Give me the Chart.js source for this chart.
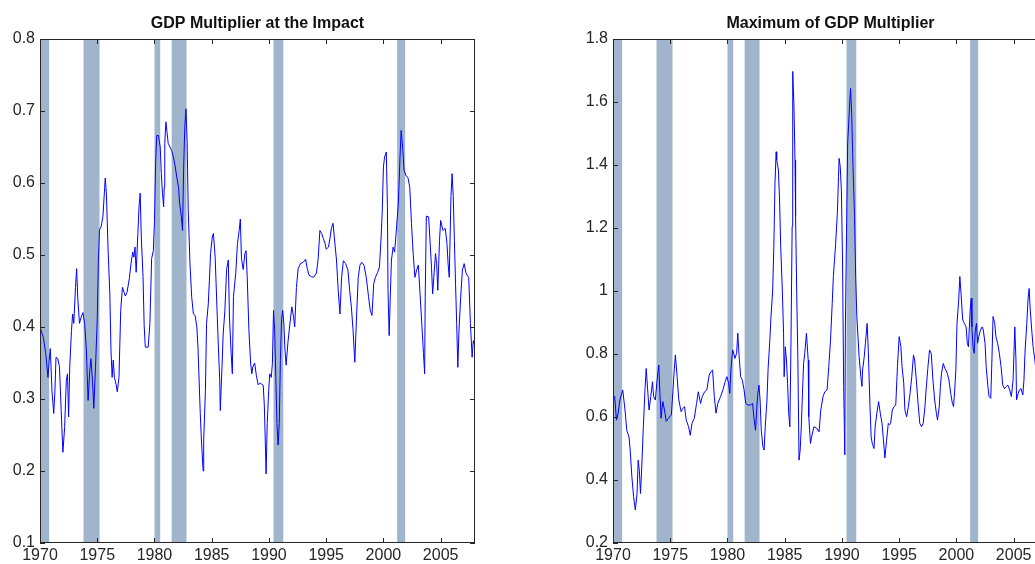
<!DOCTYPE html>
<html>
<head>
<meta charset="utf-8">
<script src="https://cdn.jsdelivr.net/npm/chart.js@4.4.1/dist/chart.umd.min.js"></script>
<style>
    html, body { margin: 0; padding: 0; background: #fff; }
    body { width: 1035px; height: 564px; overflow: hidden; position: relative; }
    canvas { position: absolute; top: 0; }
    #impactChart { left: 0; }
    #maxChart { left: 560px; }
</style>
</head>
<body>
<canvas id="impactChart" width="490" height="564"></canvas>
<canvas id="maxChart" width="500" height="564"></canvas>
<script>
// --- DATA ---
// NBER recessions, as decimal years [start, end]
const recessions = [
    [1969.9, 1970.8], [1973.8, 1975.2], [1980.0, 1980.5],
    [1981.5, 1982.8], [1990.4, 1991.25], [2001.2, 2001.9], [2007.92, 2009.0]
];

const xTicks = [1970, 1975, 1980, 1985, 1990, 1995, 2000, 2005];

// Left panel: GDP multiplier at the impact
const impactYears = [
    1970.0, 1970.3, 1970.5, 1970.7, 1970.8, 1970.9, 1971.05, 1971.2, 1971.3, 1971.4,
    1971.55, 1971.7, 1971.85, 1972.0, 1972.15, 1972.3, 1972.4, 1972.5, 1972.6, 1972.75,
    1972.85, 1972.95, 1973.1, 1973.2, 1973.3, 1973.45, 1973.6, 1973.75, 1973.9, 1974.05,
    1974.2, 1974.35, 1974.45, 1974.6, 1974.7, 1974.85, 1975.0, 1975.1, 1975.2, 1975.35,
    1975.5, 1975.65, 1975.7, 1975.8, 1975.95, 1976.1, 1976.2, 1976.3, 1976.4, 1976.5,
    1976.65, 1976.75, 1976.9, 1977.05, 1977.2, 1977.35, 1977.45, 1977.6, 1977.8, 1977.95,
    1978.1, 1978.2, 1978.3, 1978.4, 1978.55, 1978.65, 1978.75, 1978.85, 1979.0, 1979.1,
    1979.2, 1979.45, 1979.6, 1979.75, 1979.9, 1980.0, 1980.1, 1980.2, 1980.35, 1980.5,
    1980.6, 1980.7, 1980.8, 1980.85, 1980.9, 1981.0, 1981.1, 1981.2, 1981.35, 1981.5,
    1981.65, 1981.8, 1981.95, 1982.1, 1982.2, 1982.35, 1982.45, 1982.55, 1982.65, 1982.75,
    1982.85, 1982.95, 1983.1, 1983.25, 1983.4, 1983.55, 1983.7, 1983.8, 1984.0, 1984.1,
    1984.25, 1984.3, 1984.45, 1984.55, 1984.7, 1984.8, 1984.9, 1985.05, 1985.15, 1985.3,
    1985.4, 1985.55, 1985.7, 1985.75, 1985.9, 1986.0, 1986.15, 1986.3, 1986.45, 1986.55,
    1986.7, 1986.8, 1986.9, 1987.1, 1987.25, 1987.4, 1987.5, 1987.6, 1987.75, 1987.9,
    1988.0, 1988.1, 1988.25, 1988.4, 1988.5, 1988.6, 1988.75, 1988.9, 1989.05, 1989.25,
    1989.5, 1989.6, 1989.7, 1989.75, 1989.85, 1989.98, 1990.07, 1990.2, 1990.3, 1990.4,
    1990.5, 1990.6, 1990.7, 1990.8, 1990.9, 1991.0, 1991.1, 1991.2, 1991.3, 1991.4,
    1991.5, 1991.65, 1991.8, 1992.0, 1992.15, 1992.25, 1992.4, 1992.55, 1992.75, 1993.0,
    1993.2, 1993.35, 1993.5, 1993.7, 1993.9, 1994.15, 1994.3, 1994.45, 1994.6, 1994.75,
    1994.9, 1995.0, 1995.2, 1995.35, 1995.45, 1995.6, 1995.75, 1995.9, 1996.05, 1996.2,
    1996.35, 1996.5, 1996.7, 1996.9, 1997.05, 1997.2, 1997.35, 1997.5, 1997.65, 1997.8,
    1997.95, 1998.1, 1998.3, 1998.5, 1998.7, 1998.85, 1999.0, 1999.15, 1999.3, 1999.5,
    1999.65, 1999.8, 1999.9, 2000.0, 2000.1, 2000.25, 2000.35, 2000.4, 2000.5, 2000.6,
    2000.7, 2000.85, 2000.98, 2001.15, 2001.3, 2001.45, 2001.55, 2001.7, 2001.8, 2001.95,
    2002.15, 2002.3, 2002.45, 2002.6, 2002.75, 2002.9, 2003.05, 2003.2, 2003.35, 2003.5,
    2003.6, 2003.65, 2003.75, 2003.95, 2004.05, 2004.2, 2004.3, 2004.4, 2004.55, 2004.65,
    2004.75, 2004.9, 2005.0, 2005.2, 2005.4, 2005.55, 2005.65, 2005.75, 2005.9, 2006.0,
    2006.1, 2006.2, 2006.3, 2006.4, 2006.5, 2006.6, 2006.75, 2006.9, 2007.05, 2007.2,
    2007.3, 2007.45, 2007.6, 2007.75, 2007.85, 2008.0
];
const impactValues = [
    0.400, 0.385, 0.363, 0.330, 0.353, 0.370, 0.310, 0.280, 0.310, 0.358,
    0.356, 0.345, 0.284, 0.226, 0.260, 0.326, 0.335, 0.275, 0.345, 0.395,
    0.418, 0.405, 0.455, 0.481, 0.440, 0.405, 0.414, 0.420, 0.405, 0.368,
    0.298, 0.340, 0.356, 0.321, 0.287, 0.345, 0.410, 0.493, 0.535, 0.540,
    0.554, 0.594, 0.607, 0.585, 0.506, 0.446, 0.368, 0.330, 0.354, 0.330,
    0.320, 0.310, 0.330, 0.423, 0.455, 0.448, 0.443, 0.448, 0.467, 0.488,
    0.504, 0.497, 0.511, 0.476, 0.530, 0.567, 0.586, 0.525, 0.470, 0.402,
    0.372, 0.372, 0.405, 0.495, 0.506, 0.548, 0.627, 0.666, 0.666, 0.650,
    0.613, 0.585, 0.567, 0.594, 0.655, 0.685, 0.670, 0.655, 0.650, 0.645,
    0.636, 0.624, 0.608, 0.594, 0.571, 0.553, 0.534, 0.622, 0.678, 0.703,
    0.659, 0.562, 0.488, 0.442, 0.418, 0.416, 0.400, 0.372, 0.280, 0.243,
    0.200, 0.243, 0.312, 0.405, 0.432, 0.465, 0.502, 0.525, 0.530, 0.497,
    0.453, 0.386, 0.326, 0.284, 0.345, 0.390, 0.423, 0.480, 0.493, 0.414,
    0.363, 0.335, 0.442, 0.475, 0.516, 0.534, 0.550, 0.495, 0.480, 0.502,
    0.506, 0.470, 0.395, 0.350, 0.335, 0.345, 0.350, 0.333, 0.320, 0.322,
    0.319, 0.290, 0.229, 0.196, 0.266, 0.312, 0.335, 0.330, 0.349, 0.423,
    0.395, 0.330, 0.266, 0.236, 0.266, 0.354, 0.410, 0.423, 0.405, 0.368,
    0.347, 0.377, 0.400, 0.428, 0.414, 0.400, 0.455, 0.481, 0.488, 0.490,
    0.494, 0.481, 0.472, 0.470, 0.469, 0.475, 0.495, 0.534, 0.530, 0.523,
    0.516, 0.508, 0.511, 0.525, 0.537, 0.544, 0.518, 0.493, 0.451, 0.418,
    0.469, 0.492, 0.488, 0.479, 0.451, 0.428, 0.395, 0.351, 0.414, 0.469,
    0.486, 0.490, 0.486, 0.469, 0.442, 0.423, 0.416, 0.460, 0.469, 0.476,
    0.483, 0.525, 0.562, 0.622, 0.636, 0.643, 0.567, 0.451, 0.388, 0.442,
    0.493, 0.511, 0.504, 0.539, 0.571, 0.636, 0.673, 0.645, 0.618, 0.611,
    0.607, 0.594, 0.544, 0.502, 0.469, 0.479, 0.486, 0.446, 0.405, 0.363,
    0.335, 0.442, 0.554, 0.553, 0.525, 0.483, 0.446, 0.469, 0.502, 0.488,
    0.451, 0.520, 0.548, 0.534, 0.537, 0.516, 0.488, 0.469, 0.581, 0.613,
    0.581, 0.520, 0.460, 0.405, 0.344, 0.395, 0.442, 0.479, 0.488, 0.476,
    0.472, 0.469, 0.405, 0.358, 0.381, 0.372
];

// Right panel: maximum of GDP multiplier
const maxYears = [
    1970.0, 1970.15, 1970.3, 1970.45, 1970.6, 1970.85, 1971.05, 1971.2, 1971.4, 1971.5,
    1971.65, 1971.8, 1971.95, 1972.1, 1972.2, 1972.3, 1972.4, 1972.5, 1972.65, 1972.8,
    1972.9, 1973.05, 1973.15, 1973.3, 1973.45, 1973.55, 1973.7, 1973.85, 1974.0, 1974.1,
    1974.2, 1974.35, 1974.5, 1974.65, 1974.85, 1975.1, 1975.25, 1975.35, 1975.45, 1975.6,
    1975.75, 1975.95, 1976.1, 1976.25, 1976.4, 1976.6, 1976.75, 1976.9, 1977.1, 1977.3,
    1977.45, 1977.65, 1977.8, 1978.0, 1978.2, 1978.4, 1978.55, 1978.7, 1978.85, 1979.0,
    1979.15, 1979.4, 1979.6, 1979.8, 1979.95, 1980.1, 1980.2, 1980.3, 1980.45, 1980.55,
    1980.65, 1980.8, 1980.9, 1981.0, 1981.15, 1981.3, 1981.45, 1981.6, 1981.8, 1982.0,
    1982.2, 1982.3, 1982.45, 1982.55, 1982.65, 1982.75, 1982.85, 1982.95, 1983.1, 1983.2,
    1983.3, 1983.45, 1983.55, 1983.7, 1983.8, 1983.95, 1984.05, 1984.15, 1984.25, 1984.3,
    1984.45, 1984.55, 1984.65, 1984.8, 1984.9, 1984.95, 1985.05, 1985.15, 1985.25, 1985.35,
    1985.45, 1985.55, 1985.65, 1985.7, 1985.8, 1985.9, 1985.95, 1986.05, 1986.15, 1986.25,
    1986.35, 1986.45, 1986.55, 1986.65, 1986.75, 1986.9, 1987.05, 1987.1, 1987.25, 1987.35,
    1987.55, 1987.8, 1988.0, 1988.15, 1988.35, 1988.5, 1988.7, 1988.85, 1989.0, 1989.15,
    1989.25, 1989.35, 1989.45, 1989.6, 1989.7, 1989.75, 1989.85, 1989.95, 1990.05, 1990.15,
    1990.25, 1990.3, 1990.4, 1990.5, 1990.65, 1990.75, 1990.85, 1990.95, 1991.1, 1991.2,
    1991.3, 1991.4, 1991.5, 1991.65, 1991.75, 1991.8, 1991.95, 1992.05, 1992.2, 1992.3,
    1992.45, 1992.55, 1992.65, 1992.8, 1992.9, 1993.05, 1993.2, 1993.35, 1993.5, 1993.6,
    1993.75, 1993.9, 1994.05, 1994.15, 1994.25, 1994.4, 1994.55, 1994.7, 1994.85, 1995.0,
    1995.15, 1995.25, 1995.4, 1995.5, 1995.65, 1995.8, 1995.95, 1996.1, 1996.25, 1996.35,
    1996.5, 1996.65, 1996.8, 1996.95, 1997.1, 1997.25, 1997.35, 1997.5, 1997.65, 1997.8,
    1997.95, 1998.1, 1998.25, 1998.35, 1998.5, 1998.6, 1998.7, 1998.85, 1999.0, 1999.2,
    1999.35, 1999.5, 1999.65, 1999.75, 1999.85, 1999.95, 2000.05, 2000.2, 2000.3, 2000.4,
    2000.55, 2000.7, 2000.85, 2000.95, 2001.05, 2001.2, 2001.3, 2001.35, 2001.45, 2001.55,
    2001.65, 2001.75, 2001.85, 2001.95, 2002.1, 2002.25, 2002.35, 2002.5, 2002.6, 2002.75,
    2002.85, 2003.0, 2003.1, 2003.2, 2003.35, 2003.45, 2003.6, 2003.75, 2003.9, 2004.05,
    2004.2, 2004.35, 2004.5, 2004.65, 2004.8, 2004.95, 2005.1, 2005.2, 2005.25, 2005.4,
    2005.5, 2005.65, 2005.8, 2005.9, 2006.0, 2006.15, 2006.25, 2006.35, 2006.45, 2006.6,
    2006.7, 2006.85, 2006.95, 2007.1, 2007.4, 2007.7, 2008.0
];
const maxValues = [
    0.659, 0.665, 0.590, 0.612, 0.654, 0.686, 0.622, 0.558, 0.537, 0.495,
    0.410, 0.347, 0.305, 0.357, 0.463, 0.431, 0.357, 0.431, 0.569, 0.690,
    0.754, 0.675, 0.622, 0.665, 0.712, 0.665, 0.654, 0.717, 0.765, 0.675,
    0.596, 0.649, 0.622, 0.586, 0.596, 0.607, 0.690, 0.749, 0.797, 0.728,
    0.654, 0.617, 0.627, 0.633, 0.590, 0.569, 0.542, 0.580, 0.596, 0.643,
    0.680, 0.643, 0.665, 0.680, 0.686, 0.733, 0.744, 0.749, 0.665, 0.612,
    0.643, 0.665, 0.686, 0.712, 0.728, 0.707, 0.675, 0.749, 0.813, 0.802,
    0.786, 0.802, 0.866, 0.802, 0.728, 0.717, 0.686, 0.643, 0.638, 0.638,
    0.643, 0.601, 0.558, 0.622, 0.675, 0.701, 0.654, 0.558, 0.505, 0.495,
    0.569, 0.654, 0.754, 0.844, 0.919, 1.003, 1.141, 1.342, 1.442, 1.416,
    1.384, 1.289, 1.141, 0.993, 0.866, 0.728, 0.823, 0.781, 0.707, 0.612,
    0.569, 0.844, 1.205, 1.697, 1.597, 1.416, 1.236, 0.993, 0.781, 0.463,
    0.495, 0.569, 0.675, 0.770, 0.802, 0.866, 0.781, 0.601, 0.516, 0.537,
    0.569, 0.564, 0.553, 0.622, 0.665, 0.680, 0.686, 0.760, 0.844, 0.960,
    1.046, 1.098, 1.151, 1.247, 1.363, 1.421, 1.395, 1.320, 1.098, 0.697,
    0.480, 0.886, 1.183, 1.469, 1.575, 1.643, 1.564, 1.416, 1.236, 1.046,
    0.919, 0.855, 0.792, 0.728, 0.697, 0.749, 0.792, 0.834, 0.897, 0.813,
    0.633, 0.537, 0.516, 0.500, 0.569, 0.612, 0.649, 0.612, 0.580, 0.537,
    0.470, 0.526, 0.580, 0.575, 0.580, 0.622, 0.633, 0.638, 0.760, 0.855,
    0.823, 0.760, 0.707, 0.622, 0.601, 0.633, 0.675, 0.728, 0.797, 0.781,
    0.717, 0.643, 0.580, 0.569, 0.580, 0.633, 0.686, 0.754, 0.813, 0.802,
    0.717, 0.654, 0.612, 0.590, 0.633, 0.697, 0.739, 0.770, 0.754, 0.739,
    0.717, 0.675, 0.643, 0.633, 0.686, 0.749, 0.897, 0.971, 1.046, 0.993,
    0.908, 0.897, 0.886, 0.834, 0.823, 0.940, 0.977, 0.886, 0.823, 0.802,
    0.876, 0.897, 0.834, 0.855, 0.876, 0.886, 0.876, 0.834, 0.760, 0.697,
    0.665, 0.659, 0.781, 0.919, 0.897, 0.855, 0.834, 0.802, 0.760, 0.701,
    0.690, 0.697, 0.701, 0.686, 0.665, 0.717, 0.886, 0.781, 0.654, 0.675,
    0.686, 0.690, 0.670, 0.717, 0.813, 0.897, 0.971, 1.008, 0.940, 0.866,
    0.823, 0.781, 0.749, 0.750, 0.720, 0.740, 0.700
];

// --- MATLAB-like frame: recession bands, box, inward ticks, bold title ---
const matlabFrame = {
    id: 'matlabFrame',
    beforeDatasetsDraw(chart) {
        const { ctx, chartArea: a, scales: { x } } = chart;
        ctx.save();
        ctx.fillStyle = '#a0b5cb';
        recessions.forEach(([s, e]) => {
            const x0 = Math.max(a.left, x.getPixelForValue(s));
            const x1 = Math.min(a.right, x.getPixelForValue(e));
            if (x1 > x0) ctx.fillRect(x0, a.top, x1 - x0, a.bottom - a.top);
        });
        ctx.restore();
    },
    afterDraw(chart, args, opts) {
        const { ctx, chartArea: a, scales: { x, y } } = chart;
        const len = 5;
        ctx.save();
        ctx.strokeStyle = '#262626';
        ctx.lineWidth = 1;
        ctx.strokeRect(Math.round(a.left) + 0.5, Math.round(a.top) + 0.5,
            Math.round(a.right - a.left) - 1, Math.round(a.bottom - a.top) - 1);
        ctx.beginPath();
        x.ticks.forEach(t => {
            const px = Math.round(x.getPixelForValue(t.value)) + 0.5;
            ctx.moveTo(px, a.bottom); ctx.lineTo(px, a.bottom - len);
            ctx.moveTo(px, a.top); ctx.lineTo(px, a.top + len);
        });
        y.ticks.forEach(t => {
            const py = Math.round(y.getPixelForValue(t.value)) + 0.5;
            ctx.moveTo(a.left, py); ctx.lineTo(a.left + len, py);
            ctx.moveTo(a.right, py); ctx.lineTo(a.right - len, py);
        });
        ctx.stroke();
        ctx.fillStyle = '#111';
        ctx.font = 'bold 16px "Liberation Sans", Arial, sans-serif';
        ctx.textAlign = 'center';
        ctx.textBaseline = 'alphabetic';
        ctx.fillText(opts.title, (a.left + a.right) / 2, 28);
        ctx.restore();
    }
};

const tickFont = { family: '"Liberation Sans", Arial, sans-serif', size: 16 };

function makeChart(id, years, values, yMin, yMax, yStep, title, yWidth, padRight) {
    const points = years.map((yr, i) => ({ x: yr, y: values[i] }));
    return new Chart(document.getElementById(id), {
        type: 'line',
        data: {
            datasets: [{
                data: points,
                borderColor: '#0000ff',
                borderWidth: 1,
                pointRadius: 0,
                tension: 0,
                fill: false
            }]
        },
        options: {
            responsive: false,
            animation: false,
            layout: { padding: { left: 0, right: padRight, top: 39, bottom: 0 } },
            plugins: {
                legend: { display: false },
                tooltip: { enabled: false },
                matlabFrame: { title: title }
            },
            scales: {
                x: {
                    type: 'linear',
                    min: 1970,
                    max: 2008,
                    grid: { display: false, drawTicks: false },
                    border: { display: false },
                    afterBuildTicks: s => { s.ticks = xTicks.map(v => ({ value: v })); },
                    afterFit: s => { s.height = 21; },
                    ticks: {
                        padding: 3,
                        maxRotation: 0,
                        autoSkip: false,
                        color: '#262626',
                        font: tickFont,
                        callback: v => String(v)
                    }
                },
                y: {
                    min: yMin,
                    max: yMax,
                    grid: { display: false, drawTicks: false },
                    border: { display: false },
                    afterFit: s => { s.width = yWidth; },
                    ticks: {
                        stepSize: yStep,
                        padding: 5,
                        color: '#262626',
                        font: tickFont,
                        callback: v => String(Math.round(v * 10) / 10)
                    }
                }
            }
        },
        plugins: [matlabFrame]
    });
}

makeChart('impactChart', impactYears, impactValues, 0.1, 0.8, 0.1,
    'GDP Multiplier at the Impact', 40, 15);
makeChart('maxChart', maxYears, maxValues, 0.2, 1.8, 0.2,
    'Maximum of GDP Multiplier', 53, 12);
</script>
</body>
</html>
